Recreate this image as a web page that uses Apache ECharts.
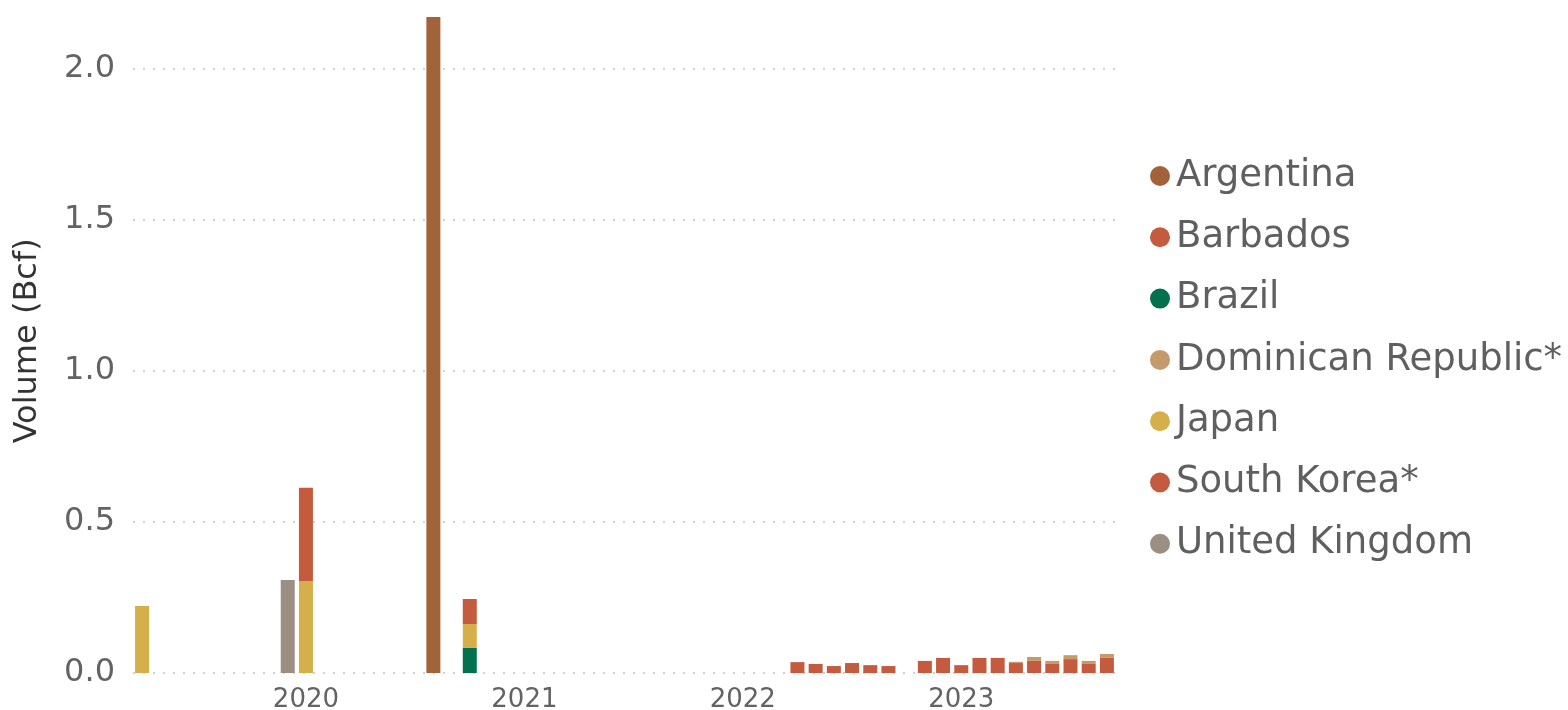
<!DOCTYPE html>
<html>
<head>
<meta charset="utf-8">
<script src="https://cdn.jsdelivr.net/npm/echarts@6/dist/echarts.min.js"></script>
<style>
html,body{margin:0;padding:0;background:#fff;}
#chart{width:1568px;height:710px;}
</style>
</head>
<body>
<div id="chart"></div>
<script>
// Monthly categories (April 2019 – September 2023)
const months = [
  '2019-04','2019-05','2019-06','2019-07','2019-08','2019-09','2019-10','2019-11','2019-12',
  '2020-01','2020-02','2020-03','2020-04','2020-05','2020-06','2020-07','2020-08','2020-09','2020-10','2020-11','2020-12',
  '2021-01','2021-02','2021-03','2021-04','2021-05','2021-06','2021-07','2021-08','2021-09','2021-10','2021-11','2021-12',
  '2022-01','2022-02','2022-03','2022-04','2022-05','2022-06','2022-07','2022-08','2022-09','2022-10','2022-11','2022-12',
  '2023-01','2023-02','2023-03','2023-04','2023-05','2023-06','2023-07','2023-08','2023-09'
];
const yTicks = [0, 0.5, 1.0, 1.5, 2.0];

// Series values (Bcf), as [month, value] pairs
const argentina = [['2020-08', 2.172]];
const barbados = [
  ['2022-04', 0.036], ['2022-05', 0.030], ['2022-06', 0.023], ['2022-07', 0.033],
  ['2022-08', 0.026], ['2022-09', 0.023], ['2022-11', 0.040], ['2022-12', 0.050],
  ['2023-01', 0.026], ['2023-02', 0.050], ['2023-03', 0.050], ['2023-04', 0.033],
  ['2023-05', 0.040], ['2023-06', 0.030], ['2023-07', 0.046], ['2023-08', 0.030],
  ['2023-09', 0.050]
];
const brazil = [['2020-10', 0.083]];
const dominican = [
  ['2023-04', 0.004], ['2023-05', 0.013], ['2023-06', 0.010], ['2023-07', 0.013],
  ['2023-08', 0.010], ['2023-09', 0.013]
];
const japan = [['2019-04', 0.222], ['2020-01', 0.305], ['2020-10', 0.079]];
const southKorea = [['2020-01', 0.308], ['2020-10', 0.083]];
const unitedKingdom = [['2019-12', 0.308]];

const seriesNames = ['Argentina','Barbados','Brazil','Dominican Republic*','Japan','South Korea*','United Kingdom'];
const seriesColors = ['#A2633A','#C45A3E','#00704F','#C49A6C','#D4AF4A','#C45A3E','#9B8F83'];
const seriesData = [argentina, barbados, brazil, dominican, japan, southKorea, unitedKingdom];

function toFull(pairs) {
  const m = {};
  pairs.forEach(p => { m[p[0]] = p[1]; });
  return months.map(c => (c in m ? m[c] : null));
}

const FONT = 'DejaVu Sans';
const chart = echarts.init(document.getElementById('chart'), null, {renderer: 'canvas'});
chart.setOption({
  animation: false,
  backgroundColor: '#ffffff',
  grid: {left: 133, width: 983, top: 8.6, bottom: 37, containLabel: false, outerBoundsMode: 'none'},
  legend: {
    orient: 'vertical',
    left: 1145,
    top: 151,
    icon: 'circle',
    itemWidth: 20,
    itemHeight: 20,
    itemGap: 21.3,
    data: seriesNames,
    textStyle: {fontFamily: FONT, fontSize: 37, lineHeight: 40, color: '#5f5f5f', padding: [0, 0, 0, 1]}
  },
  xAxis: {
    type: 'category',
    data: months,
    axisLine: {show: false},
    axisTick: {show: false},
    splitLine: {show: false},
    axisLabel: {
      interval: (i, v) => v.endsWith('-01'),
      formatter: v => v.slice(0, 4),
      fontFamily: FONT,
      fontSize: 26,
      color: '#636363',
      margin: 14
    }
  },
  yAxis: {
    type: 'value',
    min: 0,
    max: 2.2,
    interval: 0.5,
    name: 'Volume (Bcf)',
    nameLocation: 'middle',
    nameGap: 89,
    nameTextStyle: {fontFamily: FONT, fontSize: 32, color: '#333333'},
    axisLine: {show: false},
    axisTick: {show: false},
    axisLabel: {
      showMaxLabel: false,
      fontFamily: FONT,
      fontSize: 32,
      color: '#636363',
      margin: 18,
      formatter: v => (yTicks.indexOf(v) >= 0 ? v.toFixed(1) : '')
    },
    splitLine: {
      show: true,
      showMaxLine: false,
      lineStyle: {color: '#d0d0d0', width: 2, type: [2, 8], dashOffset: 0}
    }
  },
  series: seriesNames.map((n, i) => ({
    name: n,
    type: 'bar',
    stack: 'total',
    barWidth: 14,
    itemStyle: {color: seriesColors[i]},
    emphasis: {disabled: true},
    data: toFull(seriesData[i])
  }))
});
</script>
</body>
</html>
